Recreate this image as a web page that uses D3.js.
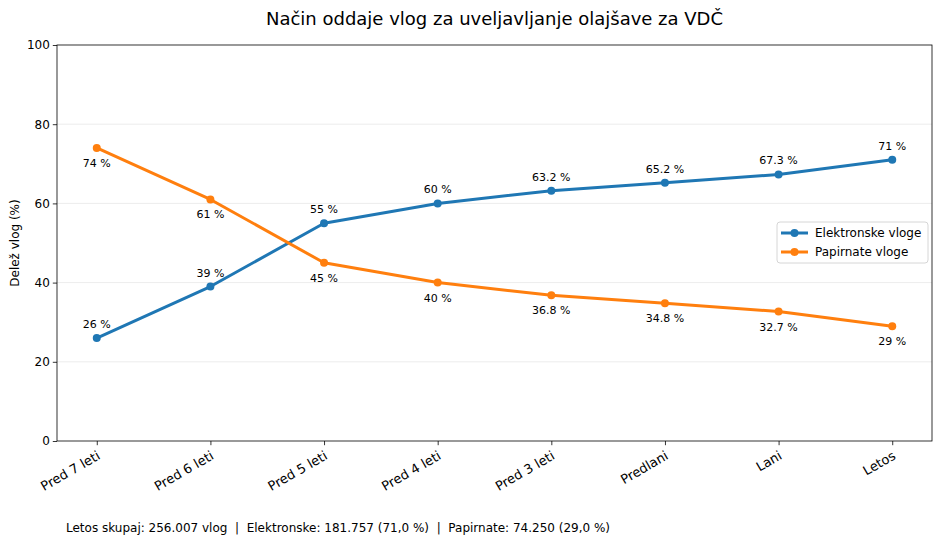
<!DOCTYPE html>
<html><head><meta charset="utf-8">
<script src="https://cdn.jsdelivr.net/npm/d3@7"></script>
<style>body{margin:0;background:#fff}svg{display:block;font-family:"DejaVu Sans",sans-serif}</style>
</head><body><svg id="c" width="940" height="544"></svg>
<script>
const categories = ["Pred 7 leti","Pred 6 leti","Pred 5 leti","Pred 4 leti","Pred 3 leti","Predlani","Lani","Letos"];
const elektronske = [26,39,55,60,63.2,65.2,67.3,71];
const papirnate = [74,61,45,40,36.8,34.8,32.7,29];
const seriesNames = ["Elektronske vloge","Papirnate vloge"];
const yTicks = [0,20,40,60,80,100];
const title = "Način oddaje vlog za uveljavljanje olajšave za VDČ";
const yLabel = "Delež vlog (%)";
const footer = "Letos skupaj: 256.007 vlog  |  Elektronske: 181.757 (71,0 %)  |  Papirnate: 74.250 (29,0 %)";

const svg = d3.select("#c");
const L=57,R=932,T=45,B=441;
const x = d3.scaleLinear().domain([-0.35, categories.length-1+0.35]).range([L,R]);
const y = d3.scaleLinear().domain([0,100]).range([B,T]);
const colors = ["#1f77b4","#ff7f0e"];

// grid
svg.append("g").selectAll("line").data(yTicks.filter(d=>d>0&&d<100)).join("line")
  .attr("x1",L).attr("x2",R).attr("y1",d=>y(d)).attr("y2",d=>y(d))
  .attr("stroke","#b0b0b0").attr("stroke-opacity",0.3).attr("stroke-width",0.8);

// axes
const yAx = svg.append("g").attr("transform",`translate(${L},0)`)
  .call(d3.axisLeft(y).tickValues(yTicks).tickSize(4.2).tickPadding(3).tickFormat(d3.format("d")));
const xAx = svg.append("g").attr("transform",`translate(0,${B})`)
  .call(d3.axisBottom(x).tickValues(d3.range(categories.length)).tickSize(4.2).tickFormat(i=>categories[i]));
[yAx,xAx].forEach(a=>{a.select(".domain").remove();a.selectAll("text").attr("font-size","12px").attr("fill","#000").attr("font-family","DejaVu Sans");a.selectAll("line").attr("stroke","#000").attr("stroke-width",0.8);});
xAx.selectAll("text").attr("text-anchor","end").attr("dy",null).attr("y",0).attr("font-size","13px")
  .attr("transform","translate(-1,9) rotate(-30)").attr("dominant-baseline","hanging");

// frame
svg.append("rect").attr("x",L).attr("y",T).attr("width",R-L).attr("height",B-T)
  .attr("fill","none").attr("stroke","#000").attr("stroke-width",0.8);

const line = d3.line().x((d,i)=>x(i)).y(d=>y(d));
const fmt = v => (Number.isInteger(v)? v : v.toFixed(1)) + " %";
[elektronske,papirnate].forEach((s,k)=>{
  svg.append("path").datum(s).attr("d",line).attr("fill","none").attr("stroke",colors[k]).attr("stroke-width",3).attr("stroke-linejoin","round").attr("stroke-linecap","round");
  svg.append("g").selectAll("circle").data(s).join("circle").attr("cx",(d,i)=>x(i)).attr("cy",d=>y(d)).attr("r",4).attr("fill",colors[k]);
  svg.append("g").selectAll("text").data(s).join("text")
    .attr("x",(d,i)=>x(i)).attr("y",d=>y(d)+(k===0?-13:16)).attr("dominant-baseline","middle")
    .attr("text-anchor","middle").attr("font-size","11px").text(fmt);
});

// title, labels
svg.append("text").attr("x",(L+R)/2).attr("y",20).attr("text-anchor","middle").attr("dominant-baseline","middle").attr("font-size","18px").text(title);
svg.append("text").attr("transform",`translate(15,${(T+B)/2}) rotate(-90)`).attr("text-anchor","middle").attr("dominant-baseline","middle").attr("font-size","12px").text(yLabel);
svg.append("text").attr("x",66).attr("y",528).attr("dominant-baseline","middle").attr("font-size","12px").attr("xml:space","preserve").style("white-space","pre").text(footer);

// legend
const lg = svg.append("g").attr("transform","translate(777,222)");
lg.append("rect").attr("width",151).attr("height",41).attr("rx",3).attr("fill","#fff").attr("fill-opacity",0.8).attr("stroke","#ccc").attr("stroke-width",0.8);
seriesNames.forEach((n,k)=>{
  const yy = 11+k*19;
  lg.append("line").attr("x1",4).attr("x2",31).attr("y1",yy).attr("y2",yy).attr("stroke",colors[k]).attr("stroke-width",3);
  lg.append("circle").attr("cx",17.5).attr("cy",yy).attr("r",4).attr("fill",colors[k]);
  lg.append("text").attr("x",38).attr("y",yy).attr("dominant-baseline","middle").attr("font-size","12px").text(n);
});
</script></body></html>
